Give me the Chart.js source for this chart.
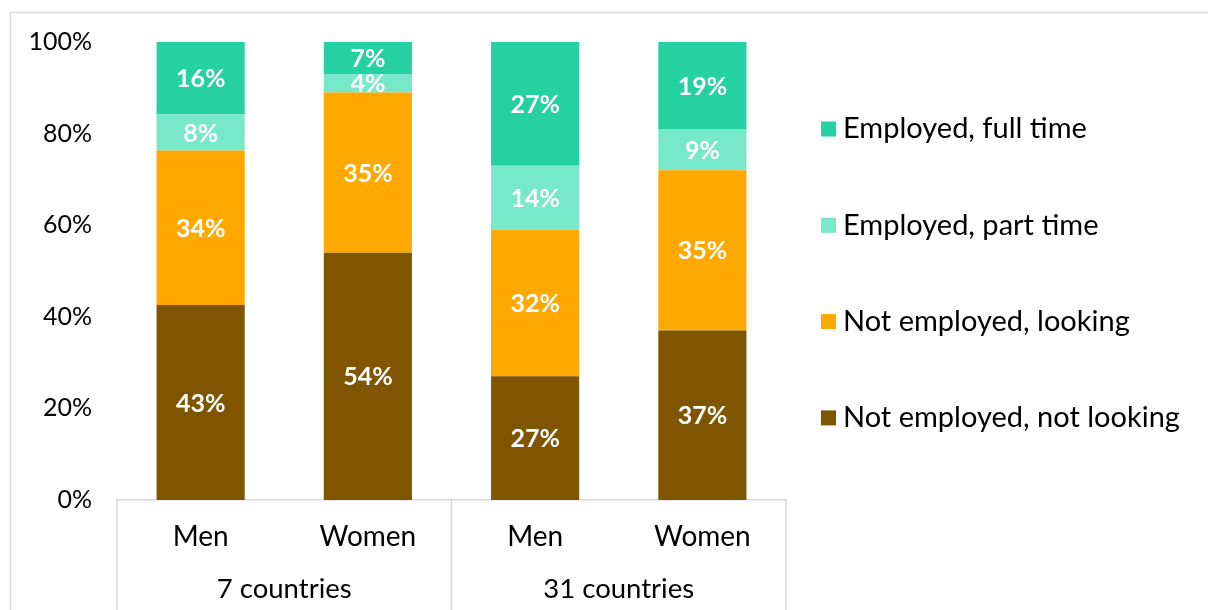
<!DOCTYPE html>
<html>
<head>
<meta charset="utf-8">
<script src="https://cdn.jsdelivr.net/npm/chart.js@4.4.1/dist/chart.umd.min.js"></script>
<style>
  html, body { margin: 0; padding: 0; background: #ffffff; }
  #wrap { width: 1208px; height: 610px; }
</style>
</head>
<body>
<div id="wrap"><canvas id="c" width="1208" height="610"></canvas></div>
<script>
// Employment status shares by sex, for two country groups
const categories = ['Men', 'Women', 'Men', 'Women'];
const groups = ['7 countries', '31 countries'];
const seriesNames = ['Not employed, not looking', 'Not employed, looking', 'Employed, part time', 'Employed, full time'];
const notLooking = [42.6, 54, 27, 37];
const looking = [33.7, 35, 32, 35];
const partTime = [7.9, 4, 14, 9];
const fullTime = [15.8, 7, 27, 19];
const yTicks = [0, 20, 40, 60, 80, 100];

const colors = ['#7F5500', '#FFA800', '#77E9C8', '#25D1A0'];
const FONT = 'Lato, "Open Sans", sans-serif';
const GRID = '#d9d9d9';

const seriesValues = [notLooking, looking, partTime, fullTime];

// Frame around the whole figure
const framePlugin = {
  id: 'frame',
  beforeDraw(chart) {
    const ctx = chart.ctx;
    ctx.save();
    ctx.strokeStyle = GRID;
    ctx.lineWidth = 1.5;
    ctx.strokeRect(10.5, 12.5, 1400, 800);
    ctx.restore();
  }
};

// Two-level category axis: group separators and group names
const groupAxisPlugin = {
  id: 'groupAxis',
  afterDraw(chart) {
    const x = chart.scales.x;
    const ctx = chart.ctx;
    const step = x.getPixelForValue(1) - x.getPixelForValue(0);
    const bottom = chart.chartArea.bottom;
    ctx.save();
    ctx.strokeStyle = GRID;
    ctx.lineWidth = 1.5;
    const bounds = [0, 2, 4].map(i => x.getPixelForValue(0) - step / 2 + i * step);
    bounds.forEach(px => {
      ctx.beginPath();
      ctx.moveTo(px, bottom);
      ctx.lineTo(px, chart.height);
      ctx.stroke();
    });
    ctx.fillStyle = '#000000';
    ctx.font = '27.5px ' + FONT;
    ctx.textAlign = 'center';
    ctx.textBaseline = 'middle';
    groups.forEach((g, gi) => {
      const cx = (bounds[gi] + bounds[gi + 1]) / 2;
      ctx.fillText(g, cx, 589);
    });
    ctx.restore();
  }
};

// Value labels centred in each bar segment
const valueLabelPlugin = {
  id: 'valueLabels',
  afterDatasetsDraw(chart) {
    const ctx = chart.ctx;
    ctx.save();
    ctx.fillStyle = '#ffffff';
    ctx.font = 'bold 25px ' + FONT;
    ctx.textAlign = 'center';
    ctx.textBaseline = 'middle';
    chart.data.datasets.forEach((ds, di) => {
      const meta = chart.getDatasetMeta(di);
      meta.data.forEach((bar, i) => {
        const v = ds.data[i];
        const cy = (bar.y + bar.base) / 2;
        ctx.fillText(Math.round(v) + '%', bar.x, cy + 1);
      });
    });
    ctx.restore();
  }
};

// Legend listed top-down from the top stack segment
const legendPlugin = {
  id: 'sideLegend',
  afterDraw(chart) {
    const ctx = chart.ctx;
    const items = chart.data.datasets.slice().reverse();
    ctx.save();
    ctx.font = '29px ' + FONT;
    ctx.textAlign = 'left';
    ctx.textBaseline = 'middle';
    items.forEach((ds, i) => {
      const cy = 129 + i * 96.3;
      ctx.fillStyle = ds.backgroundColor;
      ctx.fillRect(821, cy - 7.5, 15, 15);
      ctx.fillStyle = '#000000';
      ctx.fillText(ds.label, 843, cy);
    });
    ctx.restore();
  }
};

new Chart(document.getElementById('c'), {
  type: 'bar',
  data: {
    labels: categories,
    datasets: seriesNames.map((name, i) => ({
      label: name,
      data: seriesValues[i],
      backgroundColor: colors[i],
      borderWidth: 0,
      categoryPercentage: 1,
      barPercentage: 0.527
    }))
  },
  options: {
    responsive: false,
    animation: false,
    layout: { padding: { top: 42, right: 422, bottom: 0, left: 0 } },
    plugins: {
      legend: { display: false },
      tooltip: { enabled: false }
    },
    scales: {
      x: {
        stacked: true,
        grid: { display: false, drawTicks: false },
        border: { display: true, color: GRID, width: 1.5 },
        ticks: { color: '#000000', font: { family: FONT, size: 28 }, padding: 20, maxRotation: 0 },
        afterFit(s) { s.height = 110; }
      },
      y: {
        stacked: true,
        min: 0,
        max: 100,
        afterBuildTicks(s) { s.ticks = yTicks.map(v => ({ value: v })); },
        grid: { display: false, drawTicks: false },
        border: { display: false },
        ticks: { color: '#000000', font: { family: FONT, size: 25 }, padding: 25, callback: v => v + '%' },
        afterFit(s) { s.width = 117; }
      }
    }
  },
  plugins: [framePlugin, groupAxisPlugin, valueLabelPlugin, legendPlugin]
});
</script>
</body>
</html>
